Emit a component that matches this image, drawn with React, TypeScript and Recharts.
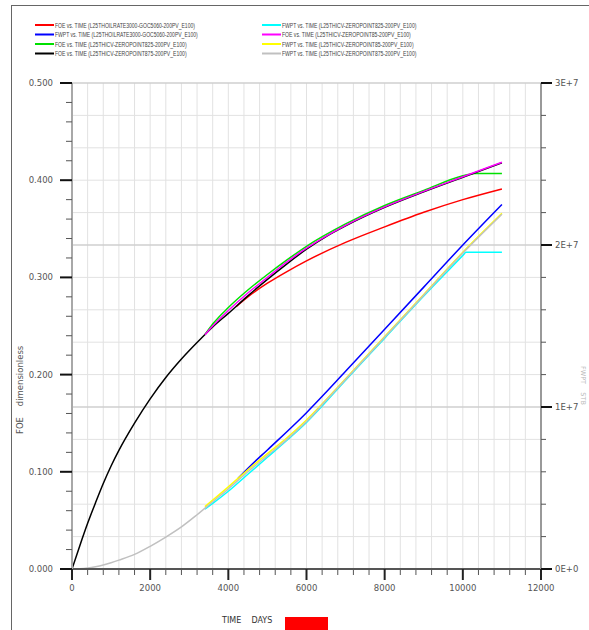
import { CartesianGrid, Line, LineChart, XAxis, YAxis } from "recharts";

// base case (ZEROPOINT875) runs from day 0
const baseTime = [0, 200, 400, 600, 800, 1000, 1200, 1600, 2000, 2400, 2800, 3200, 3600, 4000, 4500, 5000, 5500, 6000, 6500, 7000, 8000, 9000, 10000, 11000];
const blackFoe = [0, 0.024, 0.047, 0.068, 0.088, 0.106, 0.122, 0.15, 0.175, 0.197, 0.216, 0.233, 0.249, 0.263, 0.281, 0.298, 0.314, 0.329, 0.342, 0.353, 0.372, 0.388, 0.403, 0.418];
const grayFwpt = [0, 0.015e6, 0.06e6, 0.14e6, 0.25e6, 0.39e6, 0.55e6, 0.9e6, 1.4e6, 1.97e6, 2.6e6, 3.35e6, 4.15e6, 4.95e6, 6.0e6, 7.0e6, 8.0e6, 9.1e6, 10.4e6, 11.7e6, 14.3e6, 16.9e6, 19.5e6, 21.9e6];

// ZEROPOINT825 / ZEROPOINT85 restarts
const greenTime = [3400, 3600, 4000, 4500, 5000, 5500, 6000, 7000, 8000, 9000, 10000, 10300, 11000];
const greenFoe = [0.241, 0.252, 0.269, 0.287, 0.303, 0.318, 0.332, 0.355, 0.374, 0.3895, 0.4045, 0.407, 0.407];
const magentaTime = [3400, 3600, 4000, 4500, 5000, 5500, 6000, 7000, 8000, 9000, 10000, 11000];
const magentaFoe = [0.241, 0.25, 0.266, 0.284, 0.3, 0.316, 0.33, 0.3535, 0.3725, 0.3885, 0.4035, 0.4185];
const cyanTime = [3400, 3600, 4000, 4500, 5000, 5500, 6000, 7000, 8000, 9000, 10000, 10080, 11000];
const cyanFwpt = [3.7e6, 4.05e6, 4.8e6, 5.85e6, 6.9e6, 7.95e6, 9.05e6, 11.65e6, 14.25e6, 16.85e6, 19.35e6, 19.55e6, 19.55e6];
const yellowTime = [3400, 3600, 4000, 4500, 5000, 5500, 6000, 7000, 8000, 9000, 10000, 11000];
const yellowFwpt = [3.85e6, 4.25e6, 5.07e6, 6.12e6, 7.12e6, 8.1e6, 9.2e6, 11.75e6, 14.35e6, 16.95e6, 19.55e6, 21.95e6];

// OILRATE3000 restart
const redTime = [4200, 4500, 5000, 5500, 6000, 7000, 8000, 9000, 10000, 11000];
const redFoe = [0.27, 0.28, 0.294, 0.306, 0.317, 0.336, 0.352, 0.367, 0.38, 0.391];
const blueTime = [4250, 4600, 5000, 6000, 7000, 8000, 9000, 10000, 11000];
const blueFwpt = [5.6e6, 6.45e6, 7.35e6, 9.65e6, 12.2e6, 14.8e6, 17.4e6, 20.0e6, 22.5e6];

const xMajorTicks = [0, 2000, 4000, 6000, 8000, 10000, 12000];
const xTicks = Array.from({ length: 31 }, (_, i) => i * 400);
const leftMajorTicks = [0, 0.1, 0.2, 0.3, 0.4, 0.5];
const leftTicks = Array.from({ length: 26 }, (_, i) => i / 50);
const rightMajorTicks = [0, 1e7, 2e7, 3e7];
const rightTicks = Array.from({ length: 16 }, (_, i) => i * 2e6);
const rightLabels = ["0E+0", "1E+7", "2E+7", "3E+7"];

const toPoints = (time: number[], values: number[]) => time.map((t, i) => ({ t, v: values[i] }));

const series = [
  { id: "red", name: "FOE vs. TIME (L25THOILRATE3000-GOC5060-200PV_E100)", color: "#ff0000", axis: "left", data: toPoints(redTime, redFoe) },
  { id: "blue", name: "FWPT vs. TIME (L25THOILRATE3000-GOC5060-200PV_E100)", color: "#0000ff", axis: "right", data: toPoints(blueTime, blueFwpt) },
  { id: "green", name: "FOE vs. TIME (L25THICV-ZEROPOINT825-200PV_E100)", color: "#00e000", axis: "left", data: toPoints(greenTime, greenFoe) },
  { id: "black", name: "FOE vs. TIME (L25THICV-ZEROPOINT875-200PV_E100)", color: "#000000", axis: "left", data: toPoints(baseTime, blackFoe) },
  { id: "cyan", name: "FWPT vs. TIME (L25THICV-ZEROPOINT825-200PV_E100)", color: "#00ffff", axis: "right", data: toPoints(cyanTime, cyanFwpt) },
  { id: "magenta", name: "FOE vs. TIME (L25THICV-ZEROPOINT85-200PV_E100)", color: "#ff00ff", axis: "left", data: toPoints(magentaTime, magentaFoe) },
  { id: "yellow", name: "FWPT vs. TIME (L25THICV-ZEROPOINT85-200PV_E100)", color: "#ffff00", axis: "right", data: toPoints(yellowTime, yellowFwpt) },
  { id: "gray", name: "FWPT vs. TIME (L25THICV-ZEROPOINT875-200PV_E100)", color: "#c0c0c0", axis: "right", data: toPoints(baseTime, grayFwpt) },
];

const font = "'DejaVu Sans', sans-serif";
const labelColor = "#555";

const isMajor = (v: number, majors: number[]) => majors.some((m) => Math.abs(m - v) < 1e-9 * Math.max(1, Math.abs(m)));

const renderBottomTick = ({ x, y, payload }: any) => {
  const major = isMajor(payload.value, xMajorTicks);
  return (
    <g key={`b-${payload.value}`}>
      <line x1={x} x2={x} y1={y} y2={y + (major ? 11 : 6)} stroke={major ? "#222" : "#555"} strokeWidth={major ? 2 : 1} />
      {major && (
        <text x={x} y={y + 22} textAnchor="middle" fontSize={8.5} fontFamily={font} fill={labelColor}>
          {payload.value}
        </text>
      )}
    </g>
  );
};

const renderLeftTick = ({ x, y, payload }: any) => {
  const major = isMajor(payload.value, leftMajorTicks);
  return (
    <g key={`l-${payload.value}`}>
      <line x1={x} x2={x - (major ? 12 : 6)} y1={y} y2={y} stroke={major ? "#111" : "#555"} strokeWidth={major ? 2 : 1} />
      {major && (
        <text x={x - 19} y={y + 3} textAnchor="end" fontSize={8.5} fontFamily={font} fill={labelColor}>
          {payload.value.toFixed(3)}
        </text>
      )}
    </g>
  );
};

const renderRightTick = ({ x, y, payload }: any) => {
  const idx = rightMajorTicks.findIndex((m) => Math.abs(m - payload.value) < 1);
  const major = idx >= 0;
  return (
    <g key={`r-${payload.value}`}>
      <line x1={x} x2={x + (major ? 11 : 5)} y1={y} y2={y} stroke={major ? "#111" : "#555"} strokeWidth={major ? 2 : 1} />
      {major && (
        <text x={x + 14} y={y + 3} textAnchor="start" fontSize={8.5} fontFamily={font} fill={labelColor}>
          {rightLabels[idx]}
        </text>
      )}
    </g>
  );
};

const Overlay = () => (
  <svg width={589} height={630} style={{ position: "absolute", left: 0, top: 0, pointerEvents: "none" }}>
    <line x1={11} x2={589} y1={5.5} y2={5.5} stroke="#666" strokeWidth={1} />
    <line x1={11.5} x2={11.5} y1={5} y2={630} stroke="#666" strokeWidth={1} />
    {series.map((s, i) => {
      const col = i < 4 ? 0 : 1;
      const row = i % 4;
      const lx = col === 0 ? 35 : 262;
      const ly = 25 + row * 9.5;
      return (
        <g key={s.id}>
          <line x1={lx} x2={lx + 19} y1={ly} y2={ly} stroke={s.color} strokeWidth={2} />
          <text
            x={lx + 20}
            y={ly + 2.5}
            fontSize={7}
            fontFamily="'Liberation Sans', Arial, sans-serif"
            fill="#444"
            textLength={s.name.length * 2.8}
            lengthAdjust="spacingAndGlyphs"
          >
            {s.name}
          </text>
        </g>
      );
    })}
    <text transform="translate(23,434) rotate(-90)" fontSize={8.5} fontFamily={font} fill={labelColor} style={{ whiteSpace: "pre" }}>
      {"FOE    dimensionless"}
    </text>
    <text transform="translate(581,366) rotate(90)" fontSize={6.5} fontFamily={font} fill="#b8b8b8" style={{ whiteSpace: "pre" }}>
      {"FWPT    STB"}
    </text>
    <text x={222} y={623} fontSize={8} fontFamily={font} fill="#333" style={{ whiteSpace: "pre" }}>
      {"TIME    DAYS"}
    </text>
    <rect x={285} y={617} width={43} height={13} fill="#ff0000" />
  </svg>
);

export default function App() {
  return (
    <div style={{ position: "absolute", left: 0, top: 0, width: 589, height: 630, background: "#fff" }}>
      <LineChart width={589} height={630} margin={{ top: 83, right: 0, bottom: 0, left: 12 }}>
        <XAxis
          xAxisId={0}
          type="number"
          dataKey="t"
          domain={[0, 12000]}
          ticks={xTicks}
          interval={0}
          height={61}
          tickSize={0}
          tickMargin={0}
          tickLine={false}
          tick={renderBottomTick}
          axisLine={{ stroke: "#555", strokeWidth: 2 }}
          allowDataOverflow
        />
        <XAxis xAxisId="major" type="number" domain={[0, 12000]} ticks={xMajorTicks} hide height={0} allowDataOverflow />
        <YAxis
          yAxisId="left"
          type="number"
          domain={[0, 0.5]}
          ticks={leftTicks}
          interval={0}
          width={60}
          tickSize={0}
          tickMargin={0}
          tickLine={false}
          tick={renderLeftTick}
          axisLine={{ stroke: "#a8a8a8", strokeWidth: 2 }}
          allowDataOverflow
        />
        <YAxis
          yAxisId="right"
          orientation="right"
          type="number"
          domain={[0, 3e7]}
          ticks={rightTicks}
          interval={0}
          width={48}
          tickSize={0}
          tickMargin={0}
          tickLine={false}
          tick={renderRightTick}
          axisLine={{ stroke: "#999", strokeWidth: 2 }}
          allowDataOverflow
        />
        <YAxis yAxisId="rmajor" orientation="right" type="number" domain={[0, 3e7]} ticks={rightMajorTicks} hide width={0} allowDataOverflow />
        <CartesianGrid xAxisId={0} yAxisId="right" stroke="#e2e2e2" strokeWidth={1} />
        <CartesianGrid xAxisId="major" yAxisId="rmajor" stroke="#c6c6c6" strokeWidth={1.2} />
        {series.map((s) => (
          <Line
            key={s.id}
            data={s.data}
            dataKey="v"
            xAxisId={0}
            yAxisId={s.axis}
            type="monotone"
            stroke={s.color}
            strokeWidth={1.5}
            dot={false}
            isAnimationActive={false}
          />
        ))}
      </LineChart>
      <Overlay />
    </div>
  );
}
